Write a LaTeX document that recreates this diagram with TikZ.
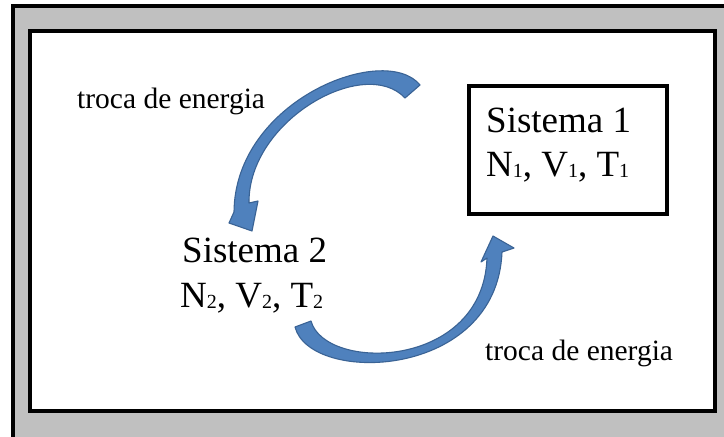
\documentclass[tikz,border=0pt]{standalone}
\usepackage{fontspec}
\setmainfont{Liberation Serif}
\definecolor{framegray}{HTML}{C0C0C0}
\definecolor{arrowfill}{HTML}{4F81BD}
\definecolor{arrowedge}{HTML}{3A6395}
\newcommand{\sbs}[1]{\raisebox{-1pt}{\fontsize{20}{20}\selectfont #1}}
\tikzset{
  bigtext/.style={inner sep=0pt, anchor=base west, font=\fontsize{37}{37}\selectfont},
  labeltext/.style={inner sep=0pt, anchor=base west, font=\fontsize{29.5}{29.5}\selectfont},
  blockarrow/.style={fill=arrowfill, draw=arrowedge, line width=1.1pt, line join=round},
  framebox/.style={draw=black, line width=4pt}
}
\begin{document}
\begin{tikzpicture}[x=1pt,y=-1pt]
\useasboundingbox (0,0) rectangle (724,437);
% outer gray frame
\path[fill=framegray, framebox] (13,5.5) rectangle (728,439);
% inner white area
\path[fill=white, framebox] (30,31) rectangle (715,411);
% Sistema 1 box
\node[framebox, rectangle, minimum width=198pt, minimum height=128pt, inner sep=0pt] (s1box) at (568,150) {};
\node[bigtext] (s1name) at (486,132) {Sistema 1};
\node[bigtext] (s1vars) at (486,176) {N\sbs{1}, V\sbs{1}, T\sbs{1}};
% Sistema 2
\node[bigtext] (s2name) at (182,262) {Sistema 2};
\node[bigtext] (s2vars) at (180,307) {N\sbs{2}, V\sbs{2}, T\sbs{2}};
% labels
\node[labeltext] (lab1) at (77,108) {troca de energia};
\node[labeltext] (lab2) at (485,360) {troca de energia};
% upper curved arrow (towards Sistema 2)
\path[blockarrow] (420,85) .. controls (385,42) and (235,100) .. (234,212)
  -- (229,223) -- (252,231) -- (258,201) -- (249,203)
  .. controls (248,120) and (365,55) .. (405,98) -- cycle;
% lower curved arrow (towards Sistema 1)
\path[blockarrow] (295,327) .. controls (310,385) and (497,380) .. (502,252)
  -- (514,248) -- (493,236) -- (481,262) -- (487,258)
  .. controls (483,370) and (325,372) .. (311,321) -- cycle;
\end{tikzpicture}
\end{document}
